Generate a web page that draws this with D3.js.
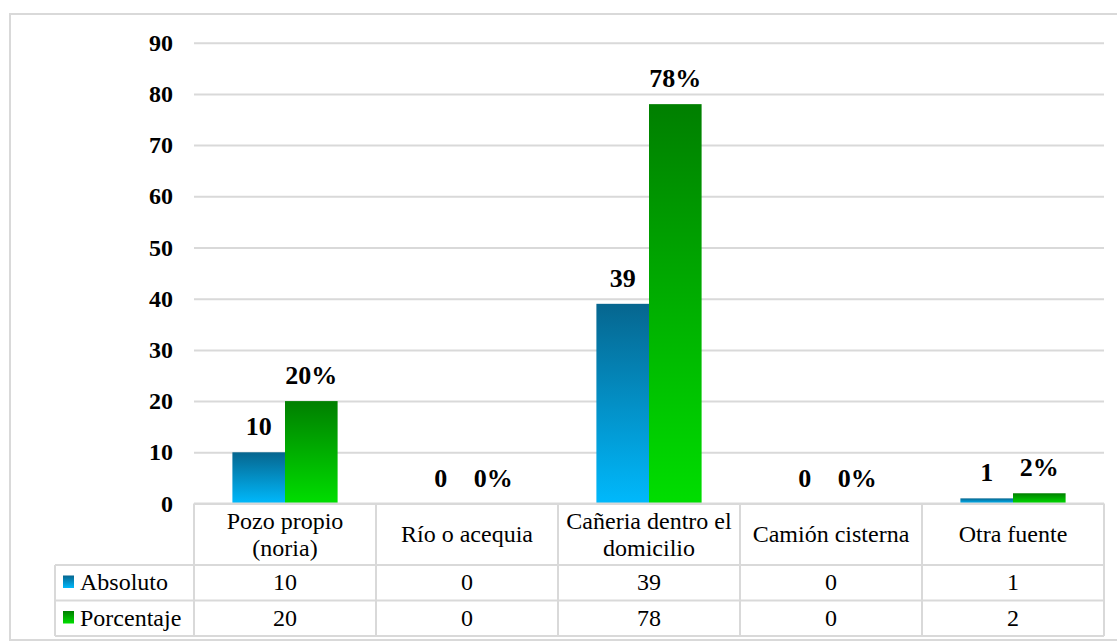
<!DOCTYPE html>
<html>
<head>
<meta charset="utf-8">
<script src="https://cdn.jsdelivr.net/npm/d3@7"></script>
</head>
<body style="margin:0;padding:0;background:#fff">
<svg id="chart" width="1117" height="643" style="display:block"></svg>
<script>
// Fuente de abastecimiento de agua
const categories = [["Pozo propio", "(noria)"], ["Río o acequia"], ["Cañeria dentro el", "domicilio"], ["Camión cisterna"], ["Otra fuente"]];
const seriesNames = ["Absoluto", "Porcentaje"];
const absoluto = [10, 0, 39, 0, 1];
const porcentaje = [20, 0, 78, 0, 2];
const yTicks = [0, 10, 20, 30, 40, 50, 60, 70, 80, 90];

const FONT = "'Liberation Serif'";
const svg = d3.select("#chart");
const W = 1117;
const plot = { left: 194, right: 1104, top: 42.7, bottom: 503.5 };
const grid = "#d9d9d9";

// chart frame
svg.append("rect").attr("x", 10).attr("y", 14).attr("width", W + 20).attr("height", 626)
  .attr("fill", "#fff").attr("stroke", grid).attr("stroke-width", 2);

const defs = svg.append("defs");
function grad(id, top, bottom) {
  const g = defs.append("linearGradient").attr("id", id).attr("x1", 0).attr("y1", 0).attr("x2", 0).attr("y2", 1);
  g.append("stop").attr("offset", "0%").attr("stop-color", top);
  g.append("stop").attr("offset", "100%").attr("stop-color", bottom);
}
grad("gBlue", "#06668f", "#00b9fc");
grad("gGreen", "#007f00", "#00de00");
const fills = ["url(#gBlue)", "url(#gGreen)"];

const x = d3.scaleBand().domain(d3.range(categories.length)).range([plot.left, plot.right]).paddingInner(0).paddingOuter(0);
const xs = d3.scaleBand().domain([0, 1]).range([0, x.bandwidth()]).paddingInner(0).paddingOuter(0.73);
const y = d3.scaleLinear().domain([0, 90]).range([plot.bottom, plot.top]);

// gridlines + y-axis labels
const yAxis = d3.axisLeft(y).tickValues(yTicks).tickSize(-(plot.right - plot.left)).tickPadding(21);
const ga = svg.append("g").attr("transform", `translate(${plot.left},0)`).call(yAxis);
ga.select(".domain").remove();
ga.selectAll(".tick line").attr("stroke", grid).attr("stroke-width", 2);
ga.selectAll(".tick text").attr("fill", "#000").attr("font-size", 24).attr("font-weight", "bold")
  .style("font-family", FONT);

// bars and value labels
const series = [absoluto, porcentaje];
series.forEach((vals, s) => {
  svg.append("g").selectAll("rect").data(vals).join("rect")
    .attr("x", (d, i) => x(i) + xs(s))
    .attr("width", xs.bandwidth())
    .attr("y", d => y(d))
    .attr("height", d => y(0) - y(d))
    .attr("fill", fills[s]);
  svg.append("g").selectAll("text").data(vals).join("text")
    .attr("x", (d, i) => x(i) + xs(s) + xs.bandwidth() / 2)
    .attr("y", d => y(d) - 17)
    .attr("text-anchor", "middle")
    .attr("font-size", 26).attr("font-weight", "bold")
    .style("font-family", FONT)
    .text(d => s === 1 ? d + "%" : d);
});

// data table
const rowTop = plot.bottom, headH = 61.5, rowH = 35.5;
const tbl = svg.append("g").attr("stroke", grid).attr("stroke-width", 2).attr("fill", "none");
const legLeft = 55;
tbl.append("line").attr("x1", plot.left).attr("x2", plot.right).attr("y1", rowTop).attr("y2", rowTop);
[1, 2, 3].forEach(k => {
  const yy = rowTop + headH + (k - 1) * rowH;
  tbl.append("line").attr("x1", legLeft).attr("x2", plot.right).attr("y1", yy).attr("y2", yy);
});
d3.range(categories.length + 1).forEach(i => {
  const xx = i < categories.length ? x(i) : plot.right;
  tbl.append("line").attr("x1", xx).attr("x2", xx).attr("y1", rowTop).attr("y2", rowTop + headH + 2 * rowH);
});
tbl.append("line").attr("x1", legLeft).attr("x2", legLeft).attr("y1", rowTop + headH).attr("y2", rowTop + headH + 2 * rowH);

// header labels
const head = svg.append("g");
categories.forEach((lines, i) => {
  const cx = x(i) + x.bandwidth() / 2;
  const lh = 26.5;
  const base = rowTop + headH / 2 + 8 - (lines.length - 1) * lh / 2;
  lines.forEach((t, k) => head.append("text").attr("x", cx).attr("y", base + k * lh)
    .attr("text-anchor", "middle").attr("font-size", 24).style("font-family", FONT).text(t));
});

// value rows with legend keys
series.forEach((vals, s) => {
  const yy = rowTop + headH + s * rowH;
  svg.append("rect").attr("x", 63).attr("y", yy + 10.5).attr("width", 11).attr("height", 12.5).attr("fill", fills[s]);
  svg.append("text").attr("x", 80).attr("y", yy + 25).attr("font-size", 24).style("font-family", FONT).text(seriesNames[s]);
  svg.append("g").selectAll("text").data(vals).join("text")
    .attr("x", (d, i) => x(i) + x.bandwidth() / 2)
    .attr("y", yy + 25)
    .attr("text-anchor", "middle").attr("font-size", 24).style("font-family", FONT)
    .text(d => d);
});
</script>
</body>
</html>
